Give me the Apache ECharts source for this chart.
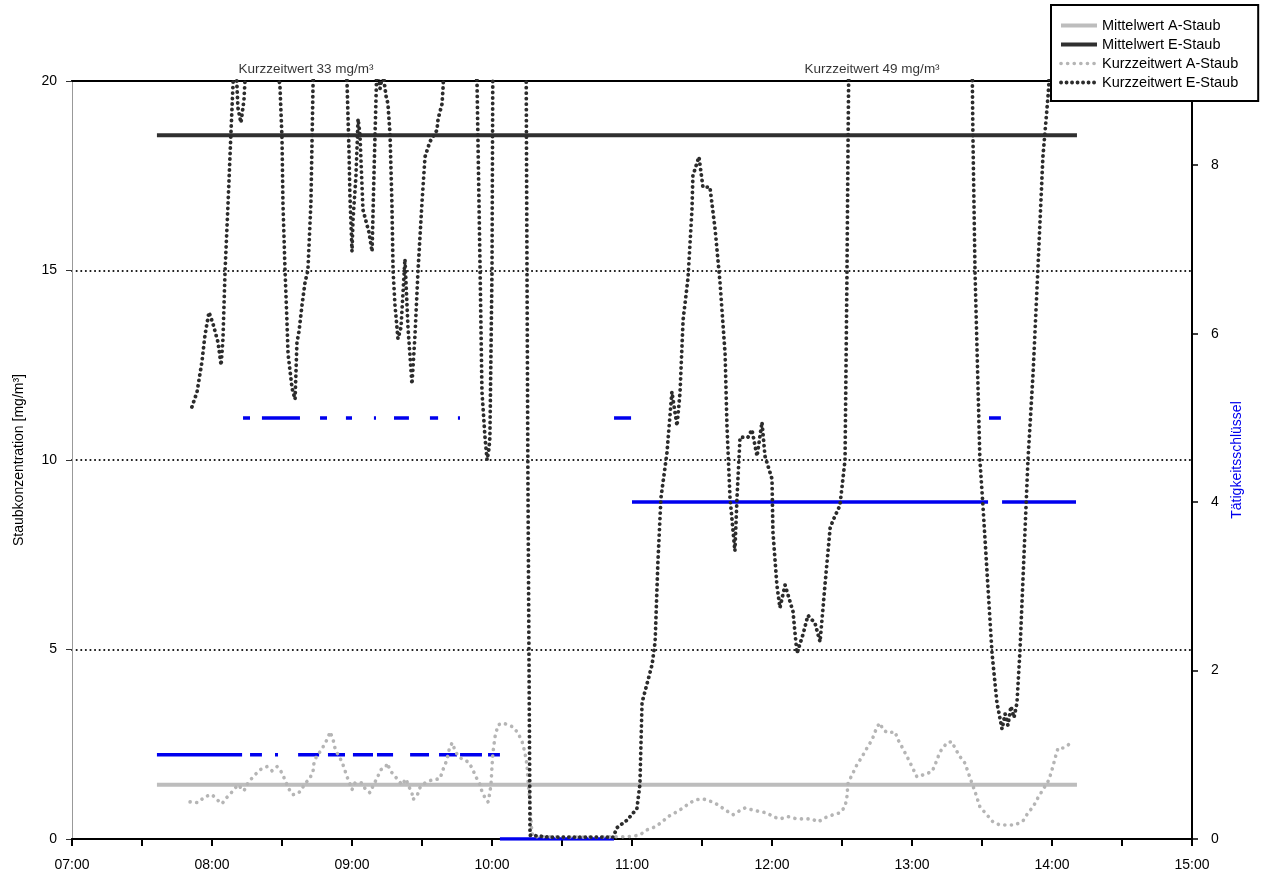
<!DOCTYPE html>
<html>
<head>
<meta charset="utf-8">
<script src="https://cdn.jsdelivr.net/npm/echarts@6/dist/echarts.min.js"></script>
<style>
html,body{margin:0;padding:0;background:#fff;}
#chart{width:1264px;height:873px;}
</style>
</head>
<body>
<div id="chart"></div>
<script>
// time values are minutes since midnight
const xTickLabels = ['07:00','08:00','09:00','10:00','11:00','12:00','13:00','14:00','15:00'];

const eStaubTime = [471.4,473.6,475.7,477.0,478.7,480.4,482.6,483.9,484.7,485.6,486.9,488.1,489.0,489.9,491.1,492.4,493.7,495.0,500.6,505.7,509.1,510.0,510.4,511.3,512.1,512.6,514.3,515.6,516.4,517.3,518.6,519.9,521.1,522.4,522.9,523.3,524.6,530.6,536.6,537.9,538.7,539.1,540.0,540.4,541.7,542.6,543.4,544.7,546.0,547.3,548.6,549.4,550.7,552.0,553.3,554.6,555.4,556.3,557.1,557.6,558.4,559.7,561.0,562.7,564.0,565.7,567.0,568.3,570.0,571.3,573.4,576.4,576.9,578.6,579.0,579.9,586.3,592.7,593.6,594.9,595.7,597.0,597.9,598.7,599.1,600.0,600.4,607.7,614.6,615.0,615.4,616.3,624.9,637.7,646.3,651.9,653.6,657.9,662.1,663.4,664.3,666.9,668.6,669.9,671.1,672.4,675.0,677.1,679.3,680.6,681.9,684.0,685.7,686.1,688.7,690.4,693.4,695.6,697.7,699.9,700.7,702.0,704.1,705.0,706.3,709.7,711.4,713.6,715.7,717.0,720.0,720.4,722.1,723.4,725.6,729.0,730.7,733.3,735.4,738.4,740.6,742.7,744.9,746.1,749.1,751.3,752.1,752.6,753.0,774.9,805.7,806.1,807.0,809.1,810.4,812.6,814.3,816.4,818.6,819.9,821.1,822.4,823.7,825.0,826.3,829.7,831.9,834.0,836.1,838.3,839.1,841.0];
const eStaubValue = [11.4,11.8,12.6,13.3,13.9,13.6,13.1,12.5,13.2,15.0,16.8,18.6,19.9,21.0,19.3,18.9,19.5,21.0,28.0,21.0,19.9,18.5,16.8,15.0,13.7,12.8,11.9,11.6,13.1,13.4,14.1,14.7,15.0,16.8,18.5,19.9,22,33,22,19.9,18.2,17.0,15.5,16.3,17.5,19.0,18.6,16.6,16.3,16.0,15.5,17.5,20.5,19.8,20.2,19.6,19.4,18.6,16.8,15.0,14.1,13.2,13.5,15.3,13.5,12.0,13.3,15.0,16.8,18.0,18.4,18.7,19.0,19.4,19.8,21,26,21,19.9,15.0,11.8,10.6,10.0,10.3,10.6,15.0,21,27,21,15,9.5,0.1,0.05,0.05,0.05,0.05,0.3,0.5,0.8,1.45,3.6,4.2,4.6,5.2,7.3,9.0,10.2,11.8,10.9,11.8,13.7,14.8,16.6,17.5,18.0,17.2,17.2,16.1,14.7,12.8,10.9,9.0,7.6,9.0,10.6,10.6,10.8,10.1,11.0,10.1,9.5,8.1,6.7,6.1,6.7,6.0,4.9,5.4,5.9,5.7,5.2,6.7,8.2,8.4,8.8,10.0,14.7,18.4,21,49,21,18.6,15.0,10.0,8.8,6.6,4.9,3.6,2.9,3.3,3.0,3.5,3.2,3.6,5.0,10.0,12.3,15.1,18.0,19.6,20.3,24];

const aStaubTime = [470.6,474.0,477.0,480.0,482.1,484.3,486.4,489.0,491.1,493.7,495.4,497.6,500.6,503.6,505.7,507.9,509.6,511.3,512.6,514.7,516.4,518.1,519.9,521.6,523.3,523.7,525.0,526.3,527.6,529.7,530.6,531.9,532.7,534.0,535.7,537.9,540.0,541.3,544.3,545.6,547.7,549.4,550.7,552.4,554.6,555.0,556.7,559.3,561.4,563.1,564.4,565.7,566.1,567.9,569.1,571.3,574.3,577.7,579.0,580.7,581.6,582.9,584.1,585.4,587.6,589.7,591.4,593.1,594.9,595.7,597.0,598.3,599.1,599.6,600.0,600.4,601.3,602.6,604.7,606.9,609.0,611.1,612.9,614.1,615.0,615.4,615.9,616.3,616.7,617.1,617.6,637.7,657.0,660.4,663.4,666.4,669.9,672.9,675.4,678.4,681.9,684.9,687.9,690.4,694.3,696.9,699.9,703.3,705.4,708.4,711.4,714.9,717.9,720.4,723.4,726.9,730.7,734.1,737.1,739.7,742.7,746.1,749.1,751.3,752.1,752.6,754.3,756.4,758.6,760.7,762.9,765.0,766.3,767.6,769.7,772.7,774.0,775.7,777.9,780.0,782.1,784.7,788.6,789.9,792.0,795.0,797.1,798.4,800.6,802.7,804.9,807.0,809.1,812.1,814.7,817.7,820.7,824.1,827.6,829.7,831.9,834.0,836.1,838.7,840.4,841.7,842.6,844.7,846.9,848.6];
const aStaubValue = [0.98,0.96,1.12,1.17,1.04,0.93,1.10,1.27,1.43,1.27,1.48,1.64,1.83,1.91,1.80,1.91,1.78,1.56,1.35,1.17,1.19,1.27,1.48,1.56,1.78,2.0,2.22,2.30,2.43,2.67,2.83,2.62,2.40,2.22,2.04,1.64,1.30,1.48,1.48,1.33,1.22,1.45,1.60,1.83,1.91,2.0,1.78,1.59,1.43,1.59,1.38,1.22,1.04,1.14,1.35,1.48,1.56,1.59,1.83,2.09,2.35,2.54,2.35,2.19,2.09,2.04,1.88,1.64,1.43,1.25,1.09,0.98,1.22,1.48,1.91,2.28,2.70,3.01,3.06,3.01,2.96,2.80,2.57,2.28,1.96,1.56,1.22,0.85,0.51,0.17,0.06,0.05,0.06,0.07,0.11,0.24,0.32,0.45,0.59,0.69,0.82,0.96,1.04,1.06,0.98,0.90,0.77,0.64,0.72,0.82,0.77,0.72,0.69,0.59,0.53,0.59,0.53,0.53,0.53,0.45,0.56,0.64,0.69,0.85,1.11,1.48,1.69,1.96,2.17,2.40,2.62,2.96,3.06,2.88,2.80,2.83,2.62,2.43,2.17,1.91,1.64,1.69,1.78,1.96,2.30,2.54,2.57,2.40,2.17,2.00,1.61,1.25,0.85,0.64,0.45,0.37,0.37,0.37,0.48,0.69,0.85,1.09,1.30,1.56,1.91,2.22,2.40,2.40,2.48,2.57];

const meanTime = [456.4, 850.7];
const meanA = 1.43;
const meanE = 18.57;

const activityStart = [456.4,493.3,496.3,501.4,507.0,516.9,526.3,529.7,537.4,540.4,549.4,550.7,558.0,564.9,573.4,577.3,585.4,586.3,598.3,603.4,652.3,660.0,813.0,818.6];
const activityEnd   = [492.9,496.3,501.4,517.7,508.3,525.9,529.3,537.0,540.0,549.0,550.3,557.6,564.4,573.0,576.9,585.0,586.3,595.7,603.4,652.3,659.6,812.6,818.1,850.3];
const activityCode  = [1,5,1,5,1,1,5,1,5,1,5,1,5,1,5,1,5,1,1,0,5,4,5,4];

const annotationTime = [520.3, 762.9];
const annotationText = ['Kurzzeitwert 33 mg/m³', 'Kurzzeitwert 49 mg/m³'];

const FONT = 'Liberation Sans, Arial, sans-serif';

const eData = eStaubTime.map((t, i) => [t, eStaubValue[i]]);
const aData = aStaubTime.map((t, i) => [t, aStaubValue[i]]);
const actData = [];
activityStart.forEach((s, i) => {
  actData.push([s, activityCode[i]]);
  actData.push([activityEnd[i], activityCode[i]]);
  actData.push([activityEnd[i], '-']);
});

const chart = echarts.init(document.getElementById('chart'));
chart.setOption({
  animation: false,
  backgroundColor: '#fff',
  grid: { left: 72, right: 72, top: 81, bottom: 34, containLabel: false },
  legend: {
    data: ['Mittelwert A-Staub', 'Mittelwert E-Staub', 'Kurzzeitwert A-Staub', 'Kurzzeitwert E-Staub'],
    orient: 'vertical',
    left: 1051, top: 5,
    backgroundColor: '#fff',
    borderColor: '#000', borderWidth: 2, borderRadius: 0,
    padding: [13, 20, 11, 8],
    itemGap: 4, itemWidth: 36, itemHeight: 14,
    itemStyle: { opacity: 0 },
    lineStyle: { width: 'inherit' },
    textStyle: { fontFamily: FONT, fontSize: 14.5, color: '#000' }
  },
  xAxis: [{
    type: 'value', min: 420, max: 900, interval: 30,
    axisLine: { show: true, onZero: false, lineStyle: { color: '#000', width: 2 } },
    axisTick: { show: true, length: 7, lineStyle: { color: '#000', width: 2 } },
    axisLabel: {
      margin: 19, fontFamily: FONT, fontSize: 14, color: '#000',
      formatter: v => ((v - 420) % 60 === 0 ? xTickLabels[(v - 420) / 60] : '')
    },
    splitLine: { show: false }
  }, {
    type: 'value', position: 'top', min: 420, max: 900,
    axisLine: { show: true, onZero: false, lineStyle: { color: '#000', width: 2 } },
    axisTick: { show: false }, axisLabel: { show: false }, splitLine: { show: false }
  }],
  yAxis: [{
    type: 'value', min: 0, max: 20, interval: 5,
    name: 'Staubkonzentration [mg/m³]', nameLocation: 'middle', nameGap: 46, nameRotate: 90,
    nameTextStyle: { fontFamily: FONT, fontSize: 14, color: '#000' },
    axisLine: { show: true, onZero: false, lineStyle: { color: '#999', width: 1 } },
    axisTick: { show: true, length: 6, lineStyle: { color: '#333', width: 1 } },
    axisLabel: { margin: 15, fontFamily: FONT, fontSize: 14, color: '#000' },
    splitLine: { show: true, lineStyle: { color: '#111', width: 2, type: [0.1, 4.5], cap: 'round' } }
  }, {
    type: 'value', position: 'right', min: 0, max: 9, interval: 2,
    name: 'Tätigkeitsschlüssel', nameLocation: 'middle', nameGap: 37, nameRotate: 90,
    nameTextStyle: { fontFamily: FONT, fontSize: 14, color: '#0000ee' },
    axisLine: { show: true, onZero: false, lineStyle: { color: '#000', width: 2 } },
    axisTick: { show: true, length: 6, lineStyle: { color: '#000', width: 1.5 } },
    axisLabel: { margin: 19, fontFamily: FONT, fontSize: 14, color: '#000', showMaxLabel: false },
    splitLine: { show: false }
  }],
  series: [
    {
      name: 'Tätigkeitsschlüssel', type: 'line', yAxisIndex: 1, data: actData,
      symbol: 'none', connectNulls: false, silent: true,
      lineStyle: { color: '#0000ee', width: 3.5 }
    },
    {
      name: 'Mittelwert A-Staub', type: 'line', symbol: 'none',
      data: meanTime.map(t => [t, meanA]),
      itemStyle: { color: '#bdbdbd' },
      lineStyle: { color: '#bdbdbd', width: 4 }
    },
    {
      name: 'Mittelwert E-Staub', type: 'line', symbol: 'none',
      data: meanTime.map(t => [t, meanE]),
      itemStyle: { color: '#303030' },
      lineStyle: { color: '#303030', width: 4 }
    },
    {
      name: 'Kurzzeitwert A-Staub', type: 'line', symbol: 'none', data: aData,
      itemStyle: { color: '#b5b5b5' },
      lineStyle: { color: '#b5b5b5', width: 3.6, type: [0.1, 6.5], cap: 'round', join: 'round' }
    },
    {
      name: 'Kurzzeitwert E-Staub', type: 'line', symbol: 'none', data: eData, clip: true,
      itemStyle: { color: '#2c2c2c' },
      lineStyle: { color: '#2c2c2c', width: 3.8, type: [0.1, 5.4], cap: 'round', join: 'round' }
    },
    {
      name: 'annotations', type: 'scatter', symbolSize: 0, clip: false, silent: true,
      data: annotationTime.map((t, i) => ({ value: [t, 20], name: annotationText[i] })),
      label: { show: true, position: 'top', distance: 5, formatter: p => p.name,
               fontFamily: FONT, fontSize: 13.5, color: '#000' }
    }
  ]
});
</script>
</body>
</html>
